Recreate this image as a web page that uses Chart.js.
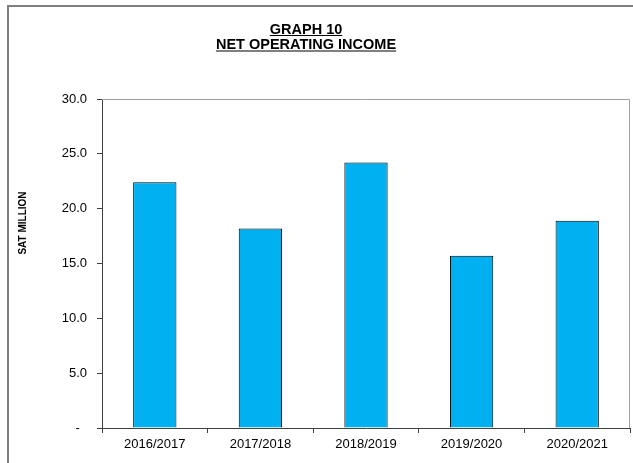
<!DOCTYPE html>
<html lang="en">
<head>
  <meta charset="UTF-8" />
  <title>Graph 10 - Net Operating Income</title>
  <script src="https://cdn.jsdelivr.net/npm/chart.js"></script>
  <style>
    body { margin: 0; background: #fff; }
    canvas { display: block; }
  </style>
</head>
<body>
  <canvas id="chart" width="633" height="463"></canvas>

  <script>
    const years = ["2016/2017", "2017/2018", "2018/2019", "2019/2020", "2020/2021"];
    const netIncome = [22.4, 18.2, 24.2, 15.7, 18.9];
    const titleLines = ["GRAPH 10", "NET OPERATING INCOME"];
    const yTitle = "SAT MILLION";

    const FONT = "'Liberation Sans', Arial, sans-serif";

    // frame, underlined title, y title and the plot border
    const decor = {
      id: "decor",
      beforeDraw(chart) {
        const ctx = chart.ctx;
        ctx.save();
        ctx.fillStyle = "#fff";
        ctx.fillRect(0, 0, chart.width, chart.height);
        ctx.strokeStyle = "#808080";
        ctx.lineWidth = 2;
        ctx.beginPath();
        ctx.moveTo(8, chart.height);
        ctx.lineTo(8, 6);
        ctx.lineTo(chart.width, 6);
        ctx.stroke();
        ctx.restore();
      },
      afterDraw(chart) {
        const ctx = chart.ctx;
        const a = chart.chartArea;
        ctx.save();
        // plot area top/right border
        ctx.strokeStyle = "#a0a0a0";
        ctx.lineWidth = 1;
        ctx.beginPath();
        ctx.moveTo(a.left, a.top + 0.5);
        ctx.lineTo(a.right - 0.5, a.top + 0.5);
        ctx.lineTo(a.right - 0.5, a.bottom);
        ctx.stroke();

        // title
        ctx.fillStyle = "#000";
        ctx.strokeStyle = "#000";
        ctx.font = "bold 14.5px " + FONT;
        ctx.textAlign = "center";
        ctx.textBaseline = "alphabetic";
        const cx = 306;
        const baselines = [33.5, 49];
        titleLines.forEach((t, i) => {
          ctx.fillText(t, cx, baselines[i]);
          const w = ctx.measureText(t).width;
          ctx.beginPath();
          ctx.moveTo(cx - w / 2, baselines[i] + 2);
          ctx.lineTo(cx + w / 2, baselines[i] + 2);
          ctx.stroke();
        });

        // y axis title
        ctx.font = "bold 10px " + FONT;
        ctx.translate(23, 223);
        ctx.rotate(-Math.PI / 2);
        ctx.textBaseline = "middle";
        ctx.fillText(yTitle, 0, 0);
        ctx.restore();
      }
    };

    new Chart(document.getElementById("chart"), {
      type: "bar",
      data: {
        labels: years,
        datasets: [{
          data: netIncome,
          backgroundColor: "#00b0f0",
          borderColor: "#000",
          borderWidth: 1,
          categoryPercentage: 1,
          barPercentage: 0.41
        }]
      },
      options: {
        responsive: false,
        animation: false,
        layout: { padding: { left: 0, top: 99, right: 3, bottom: 0 } },
        plugins: {
          legend: { display: false },
          tooltip: { enabled: false }
        },
        scales: {
          x: {
            grid: {
              drawOnChartArea: false,
              tickLength: 5,
              color: "#404040",
              offset: true
            },
            border: { color: "#404040", width: 1 },
            ticks: {
              color: "#000",
              font: { family: FONT, size: 13 },
              padding: 4,
              maxRotation: 0
            },
            afterFit(scale) { scale.height = 35; }
          },
          y: {
            min: 0,
            max: 30,
            grid: {
              drawOnChartArea: false,
              tickLength: 5,
              color: "#404040"
            },
            border: { color: "#404040", width: 1 },
            ticks: {
              stepSize: 5,
              color: "#000",
              font: { family: FONT, size: 13 },
              padding: 10,
              // accounting style: zero shown as a dash
              callback: v => v === 0 ? "-  " : v.toFixed(1)
            },
            afterFit(scale) { scale.width = 102; }
          }
        }
      },
      plugins: [decor]
    });
  </script>
</body>
</html>
